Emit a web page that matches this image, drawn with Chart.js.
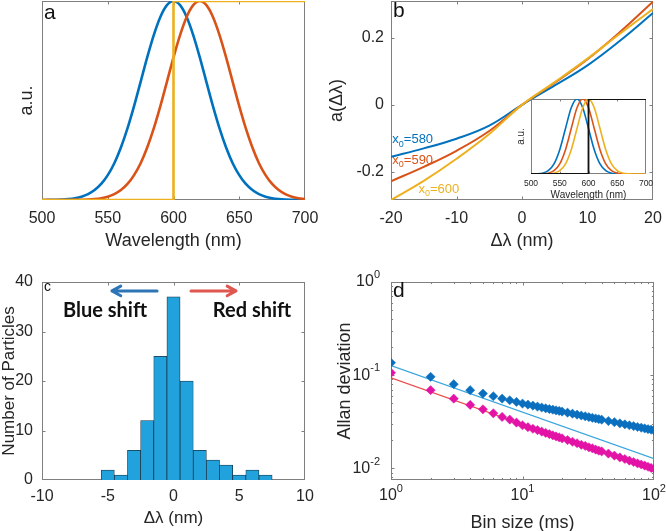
<!DOCTYPE html>
<html>
<head>
<meta charset="utf-8">
<script src="https://cdn.jsdelivr.net/npm/chart.js@4.4.1/dist/chart.umd.min.js"></script>
<style>
  body { margin: 0; background: #fff; }
  #wrap { position: relative; width: 666px; height: 531px; overflow: hidden; }
  canvas { position: absolute; }
</style>
</head>
<body>
<div id="wrap">
  <canvas id="pa" width="333" height="265" style="left:0;top:0"></canvas>
  <canvas id="pb" width="348" height="265" style="left:318px;top:0"></canvas>
  <canvas id="pc" width="333" height="266" style="left:0;top:265px"></canvas>
  <canvas id="pd" width="348" height="266" style="left:318px;top:265px"></canvas>
  <canvas id="pi" width="160" height="115" style="left:500px;top:90px"></canvas>
</div>
<script>
  // ---- panel a: spectra ----
  const wavelengths = [500,505,510,515,520,525,530,535,540,545,550,555,560,565,570,575,580,585,590,595,
    600,605,610,615,620,625,630,635,640,645,650,655,660,665,670,675,680,685,690,695,700];
  const spectrumBlue = [0.0002,0.0005,0.0012,0.0024,0.0048,0.0092,0.0169,0.0296,0.0499,0.0805,
    0.125,0.185,0.264,0.360,0.472,0.594,0.717,0.829,0.920,0.979,
    1,0.979,0.920,0.829,0.717,0.594,0.472,0.360,0.264,0.185,
    0.125,0.0805,0.0499,0.0296,0.0169,0.0092,0.0048,0.0024,0.0012,0.0005,0.0002];
  const spectrumRed = [0,0,0,0.0001,0.0002,0.0005,0.0012,0.0024,0.0048,0.0092,
    0.0169,0.0296,0.0499,0.0805,0.125,0.185,0.264,0.360,0.472,0.594,
    0.717,0.829,0.920,0.979,1,0.979,0.920,0.829,0.717,0.594,
    0.472,0.360,0.264,0.185,0.125,0.0805,0.0499,0.0296,0.0169,0.0092,0.0048];
  const filterX = [500, 600, 600, 700];
  const filterY = [0, 0, 1, 1];
  const waveTicks = [500, 550, 600, 650, 700];

  // ---- panel b: response vs shift ----
  const shiftValues = [-20, -15, -10, -5, 0, 5, 10, 15, 20];
  const response580 = [-0.155, -0.130, -0.101, -0.062, 0, 0.058, 0.118, 0.192, 0.274];
  const response590 = [-0.228, -0.185, -0.137, -0.078, 0, 0.066, 0.136, 0.218, 0.308];
  const response600 = [-0.284, -0.227, -0.161, -0.087, 0, 0.068, 0.138, 0.213, 0.286];
  const shiftTicksB = [-20, -10, 0, 10, 20];
  const responseTicks = [-0.2, 0, 0.2];

  // inset of panel b
  const insetWavelengths = [500,510,520,530,540,550,560,570,580,590,600,610,620,630,640,650,660,670,680,690,700];
  const inset580 = [0.0003,0.0022,0.0111,0.0439,0.1353,0.3247,0.6065,0.8825,1,0.8825,0.6065,0.3247,0.1353,0.0439,0.0111,0.0022,0.0003,0,0,0,0];
  const inset590 = [0,0.0003,0.0022,0.0111,0.0439,0.1353,0.3247,0.6065,0.8825,1,0.8825,0.6065,0.3247,0.1353,0.0439,0.0111,0.0022,0.0003,0,0,0];
  const inset600 = [0,0,0.0003,0.0022,0.0111,0.0439,0.1353,0.3247,0.6065,0.8825,1,0.8825,0.6065,0.3247,0.1353,0.0439,0.0111,0.0022,0.0003,0,0];

  // ---- panel c: histogram ----
  const shiftBins = [-5, -4, -3, -2, -1, 0, 1, 2, 3, 4, 5, 6, 7];
  const particleCounts = [2, 1, 6, 12, 25, 37, 20, 6, 4, 3, 1, 2, 1];
  const shiftTicksC = [-10, -5, 0, 5, 10];
  const countTicks = [0, 10, 20, 30, 40];

  // ---- panel d: Allan deviation ----
  const binSizes = [1,2,3,4,5,6,7,8,9,10,11,12,13,14,15,16,17,18,19,20,
    22,24,26,28,30,32,34,36,38,40,45,50,55,60,65,70,75,80,85,90,95,100];
  const allanBlue = [0.136,0.096,0.080,0.069,0.0635,0.0594,0.0561,0.0538,0.0516,0.0496,
    0.0483,0.0471,0.0460,0.0450,0.0441,0.0433,0.0426,0.0419,0.0413,0.0407,
    0.0396,0.0386,0.0377,0.0369,0.0362,0.0355,0.0349,0.0343,0.0338,0.0333,
    0.0322,0.0313,0.0304,0.0297,0.0290,0.0284,0.0278,0.0273,0.0268,0.0264,0.0260,0.0256];
  const allanMagenta = [0.106,0.069,0.056,0.048,0.043,0.039,0.0356,0.0334,0.031,0.029,
    0.0277,0.0266,0.0257,0.0248,0.0240,0.0233,0.0226,0.0220,0.0215,0.0210,
    0.0201,0.0193,0.0186,0.0179,0.0174,0.0168,0.0164,0.0159,0.0155,0.0152,
    0.0144,0.0137,0.0131,0.0126,0.0121,0.0117,0.0113,0.0110,0.0107,0.0104,0.0101,0.0099];
  const fitX = [1, 100];
  const fitBlue = [0.127, 0.0127];
  const fitRed = [0.0936, 0.0094];
  const binTicks = [1, 10, 100];
  const allanTicks = [0.01, 0.1, 1];

  const BLUE = '#0072bd', RED = '#d95319', YELLOW = '#edb120';
  const FONT = "'Liberation Sans', Arial, Helvetica, sans-serif";
  Chart.defaults.font.family = FONT;
  Chart.defaults.color = '#262626';

  const pts = (xs, ys) => xs.map((x, i) => ({ x: x, y: ys[i] }));

  function richText(ctx, x, y, parts, o) {
    const size = o.size || 14, weight = o.weight || 'normal', fam = o.family || FONT;
    const fontFor = p => weight + ' ' + (p.sub || p.sup ? Math.round(size * 0.68) : size) + 'px ' + fam;
    let w = 0;
    parts.forEach(p => { ctx.font = fontFor(p); w += ctx.measureText(p.t).width; });
    let cx = o.align === 'center' ? x - w / 2 : o.align === 'right' ? x - w : x;
    ctx.fillStyle = o.color || '#000';
    ctx.textAlign = 'left';
    ctx.textBaseline = 'middle';
    parts.forEach(p => {
      ctx.font = fontFor(p);
      const dy = p.sub ? size * 0.32 : p.sup ? -size * 0.42 : 0;
      ctx.fillText(p.t, cx, y + dy);
      cx += ctx.measureText(p.t).width;
    });
  }

  function arrow(ctx, x1, y1, x2, y2, color, lw) {
    const ang = Math.atan2(y2 - y1, x2 - x1), hl = 10;
    ctx.strokeStyle = color;
    ctx.lineWidth = lw;
    ctx.lineCap = 'round';
    ctx.lineJoin = 'round';
    ctx.beginPath();
    ctx.moveTo(x1, y1);
    ctx.lineTo(x2, y2);
    ctx.moveTo(x2 - hl * Math.cos(ang - 0.5), y2 - hl * Math.sin(ang - 0.5));
    ctx.lineTo(x2, y2);
    ctx.lineTo(x2 - hl * Math.cos(ang + 0.5), y2 - hl * Math.sin(ang + 0.5));
    ctx.stroke();
  }

  function logMarks(min, max, len) {
    const out = [];
    for (let e = Math.floor(Math.log10(min)); e <= Math.ceil(Math.log10(max)); e++) {
      for (let k = 1; k <= 9; k++) {
        const v = k * Math.pow(10, e);
        if (v >= min * 0.999 && v <= max * 1.001) out.push({ v: v, l: k === 1 ? len : len * 0.6 });
      }
    }
    return out;
  }

  // box around the plot with inward MATLAB-style ticks
  const framePlugin = {
    id: 'frame',
    beforeDatasetsDraw(chart, args, opts) {
      const a = chart.chartArea, ctx = chart.ctx;
      const len = opts.len || 3.5;
      ctx.save();
      if (opts.fill) {
        ctx.fillStyle = opts.fill;
        ctx.fillRect(a.left, a.top, a.right - a.left, a.bottom - a.top);
      }
      ctx.strokeStyle = '#7f7f7f';
      ctx.lineWidth = 1;
      ctx.strokeRect(a.left + 0.5, a.top + 0.5, a.right - a.left - 1, a.bottom - a.top - 1);
      ['x', 'y'].forEach(id => {
        if ((opts.skip || []).includes(id)) return;
        const s = chart.scales[id];
        const marks = s.type === 'logarithmic' ? logMarks(s.min, s.max, len)
                                               : s.ticks.map(t => ({ v: t.value, l: len }));
        ctx.beginPath();
        marks.forEach(m => {
          const p = Math.round(s.getPixelForValue(m.v)) + 0.5;
          if (id === 'x') {
            if (p < a.left || p > a.right) return;
            ctx.moveTo(p, a.bottom); ctx.lineTo(p, a.bottom - m.l);
            ctx.moveTo(p, a.top); ctx.lineTo(p, a.top + m.l);
          } else {
            if (p < a.top || p > a.bottom) return;
            ctx.moveTo(a.left, p); ctx.lineTo(a.left + m.l, p);
            ctx.moveTo(a.right, p); ctx.lineTo(a.right - m.l, p);
          }
        });
        ctx.stroke();
      });
      ctx.restore();
    }
  };

  // panel letters, curve labels, arrows and 10^n tick labels
  const notesPlugin = {
    id: 'notes',
    afterDatasetsDraw(chart, args, opts) {
      const ctx = chart.ctx, a = chart.chartArea, sx = chart.scales.x, sy = chart.scales.y;
      ctx.save();
      (opts.items || []).forEach(it => {
        const x = it.ax !== undefined ? a.left + it.ax : sx.getPixelForValue(it.x);
        const y = it.ay !== undefined ? a.top + it.ay : sy.getPixelForValue(it.y);
        if (it.to) {
          arrow(ctx, x, y, sx.getPixelForValue(it.to[0]), sy.getPixelForValue(it.to[1]), it.color, it.lw || 3);
        } else {
          richText(ctx, x, y, it.parts, it);
        }
      });
      if (opts.pow) {
        const parts = v => [{ t: '10' }, { t: String(Math.round(Math.log10(v))), sup: true }];
        opts.pow.x.forEach(v => richText(ctx, sx.getPixelForValue(v), a.bottom + opts.pow.dy, parts(v),
          { size: 16, align: 'center', color: '#262626' }));
        opts.pow.y.forEach(v => richText(ctx, a.left - opts.pow.dx, sy.getPixelForValue(v), parts(v),
          { size: 16, align: 'right', color: '#262626' }));
      }
      ctx.restore();
    }
  };

  Chart.register(framePlugin, notesPlugin);

  // fixes the plot area inside each canvas
  function makeOptions(box, x, y, plugins) {
    const plain = { border: { display: false }, grid: { display: false, drawTicks: false } };
    return {
      responsive: false,
      animation: false,
      events: [],
      layout: { autoPadding: false, padding: { left: 0, top: box.t, right: box.w - box.r, bottom: 0 } },
      scales: {
        x: Object.assign({}, plain, x, {
          afterFit: s => { s.height = box.h - box.b; s.paddingLeft = 0; s.paddingRight = 0; }
        }),
        y: Object.assign({}, plain, y, {
          afterFit: s => { s.width = box.l; s.paddingTop = 0; s.paddingBottom = 0; }
        })
      },
      plugins: Object.assign({ legend: { display: false }, tooltip: { enabled: false } }, plugins)
    };
  }
  const setTicks = arr => s => { s.ticks = arr.map(v => ({ value: v })); };
  const curve = (xs, ys, color, w) => ({
    data: pts(xs, ys), borderColor: color, borderWidth: w, pointRadius: 0,
    cubicInterpolationMode: 'monotone', fill: false
  });
  const smooth = (xs, ys, color, w) => ({
    data: pts(xs, ys), borderColor: color, borderWidth: w, pointRadius: 0, tension: 0.4, fill: false
  });

  // ---- a ----
  new Chart(document.getElementById('pa'), {
    type: 'line',
    data: {
      datasets: [
        Object.assign(curve(filterX, filterY, YELLOW, 2.6), { cubicInterpolationMode: 'default', tension: 0 }),
        curve(wavelengths, spectrumRed, RED, 2.6),
        curve(wavelengths, spectrumBlue, BLUE, 2.6)
      ]
    },
    options: makeOptions({ w: 333, h: 265, l: 42, t: 1, r: 305, b: 200 },
      {
        type: 'linear', min: 500, max: 700, afterBuildTicks: setTicks(waveTicks),
        ticks: { padding: 9.4, font: { size: 16 }, maxRotation: 0, autoSkip: false },
        title: { display: true, text: 'Wavelength (nm)', font: { size: 18 }, padding: { top: 0, bottom: 13.2 } }
      },
      {
        type: 'linear', min: 0, max: 1, ticks: { display: false },
        title: { display: true, text: 'a.u.', font: { size: 18 }, padding: { top: 16.2, bottom: 0 } }
      },
      {
        frame: { skip: ['y'] },
        notes: { items: [{ ax: 2, ay: 12, parts: [{ t: 'a' }], size: 21, color: '#111' }] }
      })
  });

  // ---- b ----
  new Chart(document.getElementById('pb'), {
    type: 'line',
    data: {
      datasets: [
        smooth(shiftValues, response600, YELLOW, 2),
        smooth(shiftValues, response590, RED, 2),
        smooth(shiftValues, response580, BLUE, 2)
      ]
    },
    options: makeOptions({ w: 348, h: 265, l: 73, t: 1, r: 335, b: 200 },
      {
        type: 'linear', min: -20, max: 20, afterBuildTicks: setTicks(shiftTicksB),
        ticks: { padding: 9.4, font: { size: 16 }, maxRotation: 0, autoSkip: false },
        title: { display: true, text: 'Δλ (nm)', font: { size: 18 }, padding: { top: 0, bottom: 13 } }
      },
      {
        type: 'linear', min: -0.284, max: 0.31, afterBuildTicks: setTicks(responseTicks),
        ticks: { padding: 7, font: { size: 16 } },
        title: { display: true, text: 'a(Δλ)', font: { size: 18 }, padding: { top: 8.2, bottom: 0 } }
      },
      {
        frame: {},
        notes: {
          items: [
            { ax: 2, ay: 10, parts: [{ t: 'b' }], size: 21, color: '#111' },
            { x: -19.8, y: -0.1045, parts: [{ t: 'x' }, { t: '0', sub: true }, { t: '=580' }], size: 13, color: BLUE },
            { x: -19.8, y: -0.167, parts: [{ t: 'x' }, { t: '0', sub: true }, { t: '=590' }], size: 13, color: RED },
            { x: -15.8, y: -0.251, parts: [{ t: 'x' }, { t: '0', sub: true }, { t: '=600' }], size: 13, color: YELLOW }
          ]
        }
      })
  });

  // ---- inset of b ----
  new Chart(document.getElementById('pi'), {
    type: 'line',
    data: {
      datasets: [
        Object.assign(curve(filterX, filterY, '#111', 1.8), { cubicInterpolationMode: 'default', tension: 0 }),
        curve(insetWavelengths, inset600, YELLOW, 1.6),
        curve(insetWavelengths, inset590, RED, 1.6),
        curve(insetWavelengths, inset580, BLUE, 1.6)
      ]
    },
    options: makeOptions({ w: 160, h: 115, l: 31, t: 9, r: 146, b: 84 },
      {
        type: 'linear', min: 500, max: 700, afterBuildTicks: setTicks(waveTicks),
        ticks: { padding: 4.9, font: { size: 8.5 }, maxRotation: 0, autoSkip: false },
        title: { display: true, text: 'Wavelength (nm)', font: { size: 10 }, padding: { top: 0, bottom: 4 } }
      },
      {
        type: 'linear', min: 0, max: 1, ticks: { display: false },
        title: { display: true, text: 'a.u.', font: { size: 10 }, padding: { top: 15.7, bottom: 0 } }
      },
      { frame: { skip: ['y'], len: 2.5, fill: '#fff' }, notes: {} })
  });

  // ---- c ----
  new Chart(document.getElementById('pc'), {
    type: 'bar',
    data: {
      datasets: [{
        data: pts(shiftBins, particleCounts),
        backgroundColor: '#22a2dc', borderColor: '#163447', borderWidth: 0.75,
        barPercentage: 1, categoryPercentage: 1
      }]
    },
    options: makeOptions({ w: 333, h: 266, l: 42, t: 17, r: 305, b: 215 },
      {
        type: 'linear', offset: false, min: -10, max: 10, afterBuildTicks: setTicks(shiftTicksC),
        ticks: { padding: 6.9, font: { size: 16 }, maxRotation: 0, autoSkip: false },
        title: { display: true, text: 'Δλ (nm)', font: { size: 17 }, padding: { top: 0, bottom: 2.8 } }
      },
      {
        type: 'linear', min: 0, max: 40, afterBuildTicks: setTicks(countTicks),
        ticks: { padding: 9, font: { size: 16 } },
        title: { display: true, text: 'Number of Particles', font: { size: 17 }, padding: { top: -1.2, bottom: 0 } }
      },
      {
        frame: {},
        notes: {
          items: [
            { ax: 2, ay: 5, parts: [{ t: 'c' }], size: 14, color: '#111' },
            { x: -1.25, y: 38.2, to: [-4.68, 38.2], color: '#2e75b6', lw: 3 },
            { x: 1.33, y: 38.2, to: [4.75, 38.2], color: '#e0574f', lw: 3 },
            { x: -5.21, y: 34.3, parts: [{ t: 'Blue shift' }], size: 20, weight: 'bold', family: "Lato, 'Open Sans', sans-serif", align: 'center', color: '#111' },
            { x: 5.97, y: 34.3, parts: [{ t: 'Red shift' }], size: 20, weight: 'bold', family: "Lato, 'Open Sans', sans-serif", align: 'center', color: '#111' }
          ]
        }
      })
  });

  // ---- d ----
  const marker = (ys, color) => ({
    data: pts(binSizes, ys), pointStyle: 'rectRot', pointRadius: 4.6,
    backgroundColor: color, borderColor: color, borderWidth: 0.5, showLine: false
  });
  const fitLine = (ys, color) => ({
    data: pts(fitX, ys), borderColor: color, borderWidth: 1.2, pointRadius: 0, showLine: true
  });
  new Chart(document.getElementById('pd'), {
    type: 'scatter',
    data: {
      datasets: [
        marker(allanBlue, '#0a6fbe'),
        marker(allanMagenta, '#e313a6'),
        fitLine(fitBlue, '#3aa6dd'),
        fitLine(fitRed, '#ea4c4c')
      ]
    },
    options: makeOptions({ w: 348, h: 266, l: 73, t: 17, r: 336, b: 215 },
      {
        type: 'logarithmic', min: 1, max: 100, ticks: { display: false },
        title: { display: true, text: 'Bin size (ms)', font: { size: 18 }, padding: { top: 0, bottom: -2.5 } }
      },
      {
        type: 'logarithmic', min: 0.0075, max: 1, ticks: { display: false },
        title: { display: true, text: 'Allan deviation', font: { size: 18 }, padding: { top: 16.2, bottom: 0 } }
      },
      {
        frame: {},
        notes: {
          items: [{ ax: 2, ay: 9, parts: [{ t: 'd' }], size: 21, color: '#111' }],
          pow: { x: binTicks, y: allanTicks, dy: 16, dx: 11 }
        }
      })
  });
</script>
</body>
</html>
